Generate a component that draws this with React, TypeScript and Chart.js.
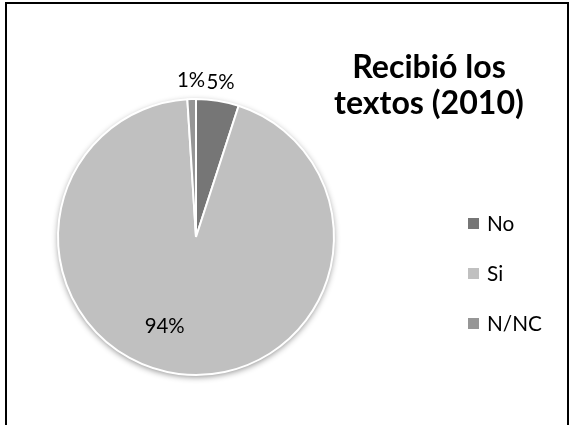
import React, { useEffect, useRef } from "react";
import { Chart, registerables } from "chart.js";

Chart.register(...registerables);

const categories = ["No", "Si", "N/NC"];
const values = [5, 94, 1];
const percentLabels = ["5%", "94%", "1%"];
const sliceColors = ["#767676", "#c0c0c0", "#969696"];
const titleLines = ["Recibió los", "textos (2010)"];

const FONT = "Lato, 'Open Sans', sans-serif";

function fitSize(ctx: CanvasRenderingContext2D, text: string, target: number, weight: string) {
  ctx.font = `${weight} 100px ${FONT}`;
  const w = ctx.measureText(text).width;
  return (100 * target) / w;
}

const framePlugin = {
  id: "frame",
  beforeDraw(chart: any) {
    const ctx = chart.ctx;
    ctx.save();
    ctx.fillStyle = "#ffffff";
    ctx.fillRect(0, 0, chart.width, chart.height);
    ctx.strokeStyle = "#000000";
    ctx.lineWidth = 2;
    ctx.strokeRect(6, 3, 562, 440);
    ctx.restore();
  },
};

const shadowPlugin = {
  id: "pieShadow",
  beforeDatasetsDraw(chart: any) {
    const meta = chart.getDatasetMeta(0);
    const arc = meta.data[0];
    if (!arc) return;
    const { x, y, outerRadius } = arc.getProps(["x", "y", "outerRadius"], true);
    const ctx = chart.ctx;
    ctx.save();
    ctx.shadowColor = "rgba(0,0,0,0.45)";
    ctx.shadowBlur = 6;
    ctx.shadowOffsetX = 0;
    ctx.shadowOffsetY = 2;
    ctx.beginPath();
    ctx.arc(x, y, outerRadius, 0, Math.PI * 2);
    ctx.fillStyle = "#ffffff";
    ctx.fill();
    ctx.restore();
  },
};

const labelPlugin = {
  id: "pctLabels",
  afterDatasetsDraw(chart: any) {
    const meta = chart.getDatasetMeta(0);
    const total = values.reduce((a, b) => a + b, 0);
    const ctx = chart.ctx;
    ctx.save();
    const size = fitSize(ctx, "94%", 40, "normal");
    ctx.font = `normal ${size}px ${FONT}`;
    ctx.fillStyle = "#000000";
    ctx.textAlign = "center";
    ctx.textBaseline = "middle";
    meta.data.forEach((arc: any, i: number) => {
      const { x, y, startAngle, endAngle, outerRadius } = arc.getProps(
        ["x", "y", "startAngle", "endAngle", "outerRadius"],
        true
      );
      let mid = (startAngle + endAngle) / 2;
      const frac = values[i] / total;
      let r: number;
      if (frac < 0.1) {
        r = outerRadius + 19;
      } else {
        r = outerRadius * 0.69;
        mid += 0.21;
      }
      ctx.fillText(percentLabels[i], x + Math.cos(mid) * r, y + Math.sin(mid) * r);
    });
    ctx.restore();
  },
};

const titleLegendPlugin = {
  id: "titleLegend",
  afterDraw(chart: any) {
    const ctx = chart.ctx;
    ctx.save();
    ctx.fillStyle = "#000000";
    ctx.textAlign = "center";
    ctx.textBaseline = "alphabetic";
    const tSize = fitSize(ctx, titleLines[1], 190, "bold");
    ctx.font = `bold ${tSize}px ${FONT}`;
    titleLines.forEach((line, i) => {
      ctx.fillText(line, 429, 78 + i * 36);
    });
    ctx.textAlign = "left";
    ctx.textBaseline = "middle";
    const lSize = fitSize(ctx, "N/NC", 55, "normal");
    ctx.font = `normal ${lSize}px ${FONT}`;
    categories.forEach((cat, i) => {
      const cy = 223 + i * 50;
      ctx.fillStyle = sliceColors[i];
      ctx.fillRect(468, cy - 5, 11, 11);
      ctx.fillStyle = "#000000";
      ctx.fillText(cat, 487, cy + 1);
    });
    ctx.restore();
  },
};

export default function App() {
  const canvasRef = useRef<HTMLCanvasElement | null>(null);

  useEffect(() => {
    if (!canvasRef.current) return;
    const chart = new Chart(canvasRef.current, {
      type: "pie",
      data: {
        labels: categories,
        datasets: [
          {
            data: values,
            backgroundColor: sliceColors,
            borderColor: "#ffffff",
            borderWidth: 2,
            radius: 138,
          },
        ],
      },
      options: {
        responsive: false,
        animation: false,
        devicePixelRatio: 1,
        events: [],
        layout: { padding: { left: 57, right: 236, top: 98, bottom: 49 } },
        plugins: {
          legend: { display: false },
          title: { display: false },
          tooltip: { enabled: false },
        },
      },
      plugins: [framePlugin, shadowPlugin, labelPlugin, titleLegendPlugin],
    });
    return () => chart.destroy();
  }, []);

  return (
    <div style={{ position: "fixed", left: 0, top: 0, width: 571, height: 425 }}>
      <canvas ref={canvasRef} width={571} height={425} style={{ display: "block" }} />
    </div>
  );
}
